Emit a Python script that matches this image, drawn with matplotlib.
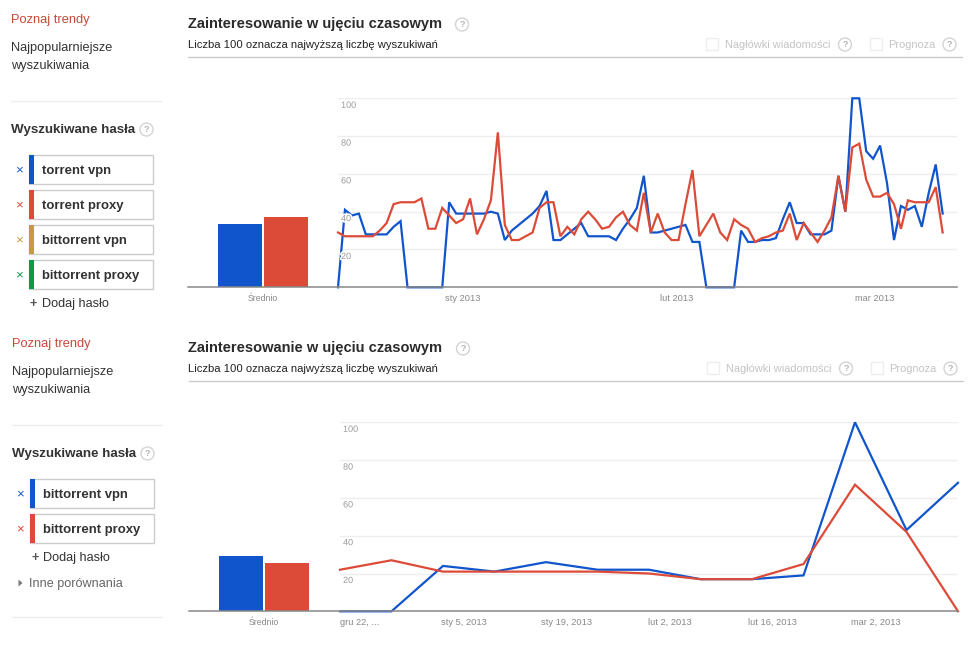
import matplotlib
matplotlib.use("Agg")
import matplotlib.pyplot as plt
import matplotlib.patheffects as pe
from matplotlib.patches import Rectangle, Circle
from matplotlib.transforms import ScaledTranslation

W, H = 977, 651
BLUE, RED, GOLD, GREEN = "#1155CC", "#DC4B38", "#C69C3A", "#0A9B47"
plt.rcParams["font.family"] = ["Liberation Sans", "DejaVu Sans"]

top_vpn = [0,41,38,39,28,28,28,28,32,35,0,0,0,0,0,0,45,39,39,39,39,39,40,39,25,30,33,36,39,43,51,25,25,28,31,34,27,27,27,27,25,31,36,42,59,
           29,29,30,31,32,33,24,24,0,0,0,0,0,30,24,24,25,25,26,36,45,34,34,28,28,28,30,59,40,100,100,72,68,75,55,25,43,41,43,32,50,65,39]
top_proxy = [29,27,27,27,27,27,30,34,44,45,45,45,47,31,31,42,38,34,36,47,28,36,46,82,33,25,25,27,29,42,45,45,27,32,28,36,40,36,31,32,37,40,33,30,50,
             29,39,29,25,25,44,62,27,33,39,29,25,36,33,31,24,26,27,29,30,39,25,34,29,24,30,37,59,40,74,76,57,48,48,50,44,31,46,45,45,45,53,29]
bot_vpn = [0,0,24,21,26,22,22,17,17,19,100,43,68]
bot_proxy = [22,27,21,21,21,21,20,17,17,25,67,42,0]
top_avg = [33.5, 37]
bot_avg = [29, 25.3]
y_ticks = [20, 40, 60, 80, 100]
top_xticks = [15.4, 46.4, 74.4]
top_xlabels = ["sty 2013", "lut 2013", "mar 2013"]
bot_xticks = [0, 1.96, 3.9, 5.98, 7.92, 9.92]
bot_xlabels = ["gru 22, ...", "sty 5, 2013", "sty 19, 2013", "lut 2, 2013", "lut 16, 2013", "mar 2, 2013"]
top_terms = ["torrent vpn", "torrent proxy", "bittorrent vpn", "bittorrent proxy"]
top_term_colors = [BLUE, RED, GOLD, GREEN]
bot_terms = ["bittorrent vpn", "bittorrent proxy"]
bot_term_colors = [BLUE, RED]

fig = plt.figure(figsize=(W/100, H/100), dpi=100, facecolor="white")
bg = fig.add_axes([0, 0, 1, 1], zorder=0)
bg.set_xlim(0, W); bg.set_ylim(H, 0); bg.axis("off")

def rect_ax(x0, y0, x1, y1):
    return fig.add_axes([x0/W, 1-y1/H, (x1-x0)/W, (y1-y0)/H], zorder=1, facecolor="none")

def txt(x, y, s, px, color="#333333", weight="normal", ha="left"):
    bg.text(x, y+1, s, fontsize=px*0.72, color=color, weight=weight, ha=ha, va="center")

def helpicon(x, y, r=6.5):
    bg.add_patch(Circle((x, y), r, fc="white", ec="#d4d4d4", lw=1))
    bg.text(x, y, "?", fontsize=6.5, color="#b5b5b5", weight="bold", ha="center", va="center")

def sidebar(dx, dy, terms, colors, extra):
    txt(11+dx, 19+dy, "Poznaj trendy", 12.9, "#C5493A")
    txt(11+dx, 47+dy, "Najpopularniejsze", 12.8)
    txt(11+dx, 65+dy, "wyszukiwania", 12.8)
    bg.plot([11+dx, 161+dx], [101+dy]*2, color="#eeeeee", lw=1)
    txt(11+dx, 128.5+dy, "Wyszukiwane hasła", 13.4, weight="bold")
    helpicon(146.5+dx, 129.5+dy)
    y = 155
    for t, c in zip(terms, colors):
        bg.add_patch(Rectangle((29+dx, y+dy), 124, 28.5, fc="white", ec="#cccccc", lw=1))
        bg.add_patch(Rectangle((29+dx, y+dy-0.5), 5, 29.5, fc=c, ec="none"))
        bg.text(18.5+dx, y+dy+15, "×", fontsize=9.5, color=c, ha="center", va="center")
        txt(42+dx, y+dy+15, t, 13.1, weight="bold")
        y += 35
    txt(30+dx, y+dy+8, "+", 12.5, weight="bold", color="#555555")
    txt(42+dx, y+dy+8, "Dodaj hasło", 12.6)
    if extra:
        bg.fill([18.5+dx-1, 18.5+dx-1, 22.5+dx-1], [y+dy+30.5, y+dy+37.5, y+dy+34], color="#777777", lw=0)
        txt(28+dx, y+dy+33.5, "Inne porównania", 12.6, color="#666666")
        bg.plot([11+dx, 161+dx], [y+dy+68]*2, color="#eeeeee", lw=1)

def header(dx, dy):
    txt(187.5+dx, 23+dy, "Zainteresowanie w ujęciu czasowym", 14.65, color="#2b2b2b", weight="bold")
    helpicon(462+dx, 24.5+dy)
    txt(187.5+dx, 44.5+dy, "Liczba 100 oznacza najwyższą liczbę wyszukiwań", 11.3, color="#222222")
    bg.plot([187.5+dx, 962+dx], [57+dy]*2, color="#cccccc", lw=1)
    for x0 in (706, 870):
        bg.add_patch(Rectangle((x0+dx, 38+dy), 12, 12, fc="white", ec="#eeeeee", lw=1))
    txt(725+dx, 43.5+dy, "Nagłówki wiadomości", 11, "#c4c4c4")
    helpicon(845+dx, 44.5+dy)
    txt(888+dx, 43.5+dy, "Prognoza", 11, "#c4c4c4")
    helpicon(949.5+dx, 44.5+dy)

def chart(dx, dy, x0, x1, a, b, avg, xt, xl, xmax):
    y0, y1 = 98.3+dy, 287.3+dy
    ax = rect_ax(x0, y0, x1, y1)
    ax.set_xlim(0, xmax); ax.set_ylim(0, 100)
    for s in ("top", "left", "right"):
        ax.spines[s].set_visible(False)
    ax.spines["bottom"].set_color("#888888")
    ax.spines["bottom"].set_linewidth(1.1)
    ax.patch.set_visible(False)
    ax.set_axisbelow(False)
    for v in y_ticks:
        ax.axhline(v, color="#eeeeee", lw=1, zorder=1)
    ax.plot(range(len(a)), a, color=BLUE, lw=1.6, zorder=2, solid_joinstyle="miter", clip_on=False)
    ax.plot(range(len(b)), b, color=RED, lw=1.6, zorder=2.1, solid_joinstyle="miter", clip_on=False)
    ax.set_yticks(y_ticks)
    ax.tick_params(axis="y", length=0, pad=-2.2, labelsize=6.5, labelcolor="#999999")
    ax.tick_params(axis="x", length=0, pad=4.8, labelsize=6.7, labelcolor="#888888")
    off = ScaledTranslation(0, -7/100, fig.dpi_scale_trans)
    for lab in ax.get_yticklabels():
        lab.set_ha("left"); lab.set_va("center")
        lab.set_transform(lab.get_transform() + off)
        lab.set_path_effects([pe.withStroke(linewidth=2.2, foreground="white")])
    ax.set_xticks(xt); ax.set_xticklabels(xl, ha="left")

    bx = rect_ax(187.5+dx, y0, x0, y1)
    cx = 263 + dx
    bx.set_xlim((187.5+dx-cx)/46, (x0-cx)/46); bx.set_ylim(0, 100)
    bx.bar([-0.5, 0.5], avg, width=0.97, color=[BLUE, RED])
    for s in ("top", "left", "right"):
        bx.spines[s].set_visible(False)
    bx.spines["bottom"].set_color("#888888")
    bx.spines["bottom"].set_linewidth(1.1)
    bx.set_yticks([]); bx.set_xticks([0]); bx.set_xticklabels(["Średnio"])
    bx.tick_params(axis="x", length=0, pad=4.8, labelsize=6.3, labelcolor="#888888")

sidebar(0, 0, top_terms, top_term_colors, False)
sidebar(1, 324, bot_terms, bot_term_colors, True)
header(0, 0)
header(1, 324)
chart(0, 0, 338, 957, top_vpn, top_proxy, top_avg, top_xticks, top_xlabels, (957-338)/6.95)
chart(1, 324, 340, 958, bot_vpn, bot_proxy, bot_avg, bot_xticks, bot_xlabels, 12)

fig.savefig("out.png", dpi=100)
